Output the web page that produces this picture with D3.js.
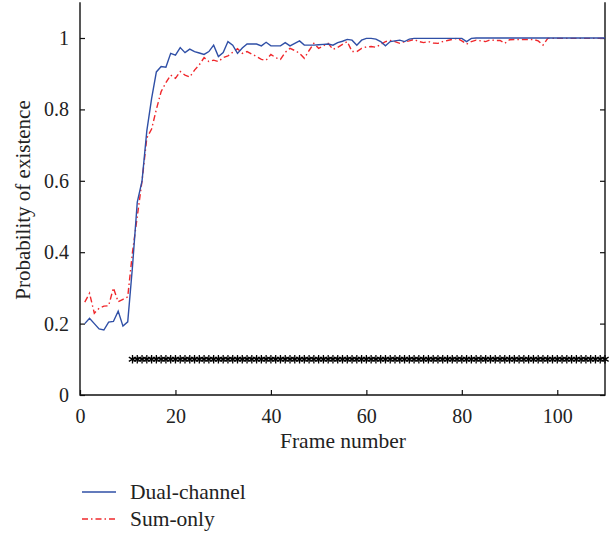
<!DOCTYPE html>
<html>
<head>
<meta charset="utf-8">
<script src="https://cdn.jsdelivr.net/npm/d3@7"></script>
<style>
  html, body { margin: 0; padding: 0; background: #fff; }
  svg { display: block; }
  text { font-family: "Liberation Serif", "Times New Roman", serif; fill: #222; }
</style>
</head>
<body>
<svg id="chart" width="612" height="535"></svg>
<script>
// Existence probability per frame for the two detectors
const frames = d3.range(1, 111);

const dualChannel = [
  0.200, 0.215, 0.200, 0.185, 0.182, 0.204, 0.206, 0.235, 0.193, 0.205,
  0.360, 0.540, 0.600, 0.740, 0.830, 0.905, 0.920, 0.918, 0.957, 0.952,
  0.973, 0.959, 0.969, 0.962, 0.958, 0.954, 0.962, 0.980, 0.948, 0.959,
  0.990, 0.980, 0.957, 0.972, 0.983, 0.983, 0.983, 0.978, 0.988, 0.978,
  0.978, 0.978, 0.987, 0.978, 0.985, 0.992, 0.980, 0.980, 0.980, 0.981,
  0.982, 0.983, 0.980, 0.987, 0.991, 0.996, 0.994, 0.980, 0.994, 0.999,
  0.999, 0.997, 0.990, 0.978, 0.990, 0.992, 0.994, 0.990, 0.997, 0.999,
  0.999, 0.999, 0.999, 0.999, 0.999, 0.999, 0.999, 0.999, 0.999, 0.999,
  0.990, 0.999, 1.000, 1.000, 1.000, 1.000, 1.000, 1.000, 1.000, 1.000,
  1.000, 1.000, 1.000, 1.000, 1.000, 1.000, 1.000, 1.000, 1.000, 1.000,
  1.000, 1.000, 1.000, 1.000, 1.000, 1.000, 1.000, 1.000, 1.000, 1.000
];

const sumOnly = [
  0.260, 0.285, 0.229, 0.243, 0.249, 0.250, 0.300, 0.261, 0.268, 0.275,
  0.400, 0.500, 0.600, 0.720, 0.745, 0.800, 0.850, 0.875, 0.896, 0.887,
  0.906, 0.896, 0.891, 0.910, 0.925, 0.945, 0.934, 0.938, 0.934, 0.945,
  0.950, 0.960, 0.970, 0.957, 0.962, 0.955, 0.948, 0.940, 0.938, 0.954,
  0.945, 0.940, 0.960, 0.971, 0.965, 0.957, 0.943, 0.965, 0.985, 0.971,
  0.978, 0.985, 0.968, 0.974, 0.982, 0.990, 0.962, 0.962, 0.971, 0.975,
  0.976, 0.974, 0.982, 0.990, 0.993, 0.990, 0.985, 0.990, 0.992, 0.996,
  0.990, 0.987, 0.990, 0.986, 0.985, 0.990, 0.993, 0.996, 0.999, 0.992,
  0.983, 0.990, 0.994, 0.992, 0.990, 0.995, 0.993, 0.993, 0.985, 0.995,
  0.996, 0.996, 0.996, 0.996, 0.996, 0.992, 0.980, 0.999, 0.999, 0.999,
  0.999, 0.999, 0.999, 0.999, 0.999, 0.999, 0.999, 0.999, 0.999, 0.999
];

// Frames in which the target is present (marked along y = 0.1)
const presentFrames = d3.range(11, 111);
const presentLevel = 0.1;

const xTicks = [0, 20, 40, 60, 80, 100];
const yTicks = [0, 0.2, 0.4, 0.6, 0.8, 1];
const seriesNames = ["Dual-channel", "Sum-only"];

const svg = d3.select("#chart");
const plot = { left: 80, right: 605, top: 2.3, bottom: 395 };

const x = d3.scaleLinear().domain([0, 110]).range([plot.left, plot.right]);
const y = d3.scaleLinear().domain([0, 1.1]).range([plot.bottom, plot.top]);

const styles = [
  { color: "#2f4fa6", dash: null },
  { color: "#f0282c", dash: "6,3,1.5,3" }
];

// Axes with inward ticks, MATLAB-style box
const xAxis = d3.axisBottom(x).tickValues(xTicks).tickSizeInner(-5).tickSizeOuter(0).tickPadding(14).tickFormat(d3.format("d"));
const yAxis = d3.axisLeft(y).tickValues(yTicks).tickSizeInner(-5).tickSizeOuter(0).tickPadding(11).tickFormat(d => d === 0 || d === 1 ? String(d) : d3.format(".1f")(d));

const gx = svg.append("g").attr("transform", `translate(0,${plot.bottom})`).call(xAxis);
const gy = svg.append("g").attr("transform", `translate(${plot.left},0)`).call(yAxis);
[gx, gy].forEach(g => {
  g.select(".domain").remove();
  g.selectAll(".tick line").attr("stroke", "#111").attr("stroke-width", 1.2);
  g.selectAll(".tick text").attr("font-size", 20).attr("fill", "#222")
    .style("font-family", "'Liberation Serif', serif");
});

// Mirrored ticks on the right
svg.append("g").attr("transform", `translate(${plot.right},0)`)
  .call(d3.axisRight(y).tickValues(yTicks).tickSizeInner(-5).tickSizeOuter(0).tickFormat(""))
  .call(g => g.select(".domain").remove())
  .selectAll(".tick line").attr("stroke", "#111").attr("stroke-width", 1.2);

// Frame lines: left, bottom, right
svg.append("path")
  .attr("d", `M${plot.left},${plot.top}V${plot.bottom}H${plot.right}V${plot.top}`)
  .attr("fill", "none").attr("stroke", "#111").attr("stroke-width", 1.4);

// Presence markers
const star = d3.symbol().type(d3.symbolAsterisk).size(50);
svg.append("g").selectAll("path")
  .data(presentFrames)
  .join("path")
  .attr("transform", d => `translate(${x(d)},${y(presentLevel)})`)
  .attr("d", star)
  .attr("fill", "none")
  .attr("stroke", "#000")
  .attr("stroke-width", 1.3);

// Probability curves
const line = d3.line().x(d => x(d[0])).y(d => y(d[1]));
[sumOnly, dualChannel].forEach((vals, i) => {
  const s = styles[1 - i];
  svg.append("path")
    .datum(frames.map((f, k) => [f, vals[k]]))
    .attr("d", line)
    .attr("fill", "none")
    .attr("stroke", s.color)
    .attr("stroke-width", 1.4)
    .attr("stroke-dasharray", s.dash);
});

// Axis titles
svg.append("text")
  .attr("x", 343).attr("y", 448)
  .attr("text-anchor", "middle").attr("font-size", 21.5)
  .text("Frame number");
svg.append("text")
  .attr("transform", `translate(30,200) rotate(-90)`)
  .attr("text-anchor", "middle").attr("font-size", 21)
  .text("Probability of existence");

// Legend
const legend = svg.append("g");
seriesNames.forEach((name, i) => {
  const ly = 492 + i * 27;
  legend.append("line")
    .attr("x1", 82).attr("x2", 116).attr("y1", ly).attr("y2", ly)
    .attr("stroke", styles[i].color).attr("stroke-width", 1.4)
    .attr("stroke-dasharray", styles[i].dash);
  legend.append("text")
    .attr("x", 130).attr("y", ly + 7)
    .attr("font-size", 21.5)
    .text(name);
});
</script>
</body>
</html>
